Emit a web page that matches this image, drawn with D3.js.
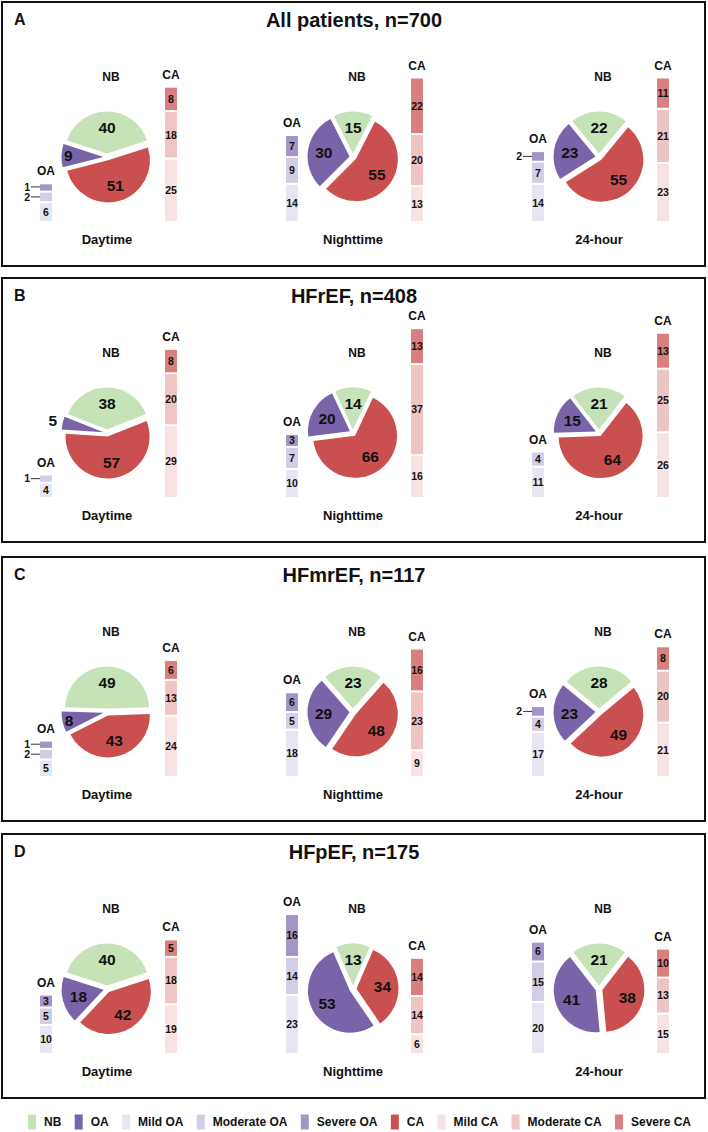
<!DOCTYPE html>
<html><head><meta charset="utf-8">
<script src="https://cdn.jsdelivr.net/npm/d3@7"></script>
<style>
body{margin:0;background:#fff}
svg{display:block}
text{font-family:"Liberation Sans",Arial,Helvetica,sans-serif;font-weight:bold;fill:#111}
</style>
</head><body>
<svg id="c" width="708" height="1132"></svg>
<script>
// ---------- DATA ----------
const panelLetters = ["A", "B", "C", "D"];
const panelTitles = ["All patients, n=700", "HFrEF, n=408", "HFmrEF, n=117", "HFpEF, n=175"];
const periods = ["Daytime", "Nighttime", "24-hour"];
// pie values [panel][period]
const nbValues = [[40, 15, 22], [38, 14, 21], [49, 23, 28], [40, 13, 21]];
const oaValues = [[9, 30, 23], [5, 20, 15], [8, 29, 23], [18, 53, 41]];
const caValues = [[51, 55, 55], [57, 66, 64], [43, 48, 49], [42, 34, 38]];
// severity breakdown [panel][period]
const oaMild = [[6, 14, 14], [4, 10, 11], [5, 18, 17], [10, 23, 20]];
const oaModerate = [[2, 9, 7], [1, 7, 4], [2, 5, 4], [5, 14, 15]];
const oaSevere = [[1, 7, 2], [0, 3, 0], [1, 6, 2], [3, 16, 6]];
const caMild = [[25, 13, 23], [29, 16, 26], [24, 9, 21], [19, 6, 15]];
const caModerate = [[18, 20, 21], [20, 37, 25], [13, 23, 20], [18, 14, 13]];
const caSevere = [[8, 22, 11], [8, 13, 13], [6, 16, 8], [5, 14, 10]];
const legendLabels = ["NB", "OA", "Mild OA", "Moderate OA", "Severe OA", "CA", "Mild CA", "Moderate CA", "Severe CA"];

// ---------- STYLE ----------
const colors = {
  "NB": "#c5e3b6", "OA": "#7964a9", "Mild OA": "#e7e5f2", "Moderate OA": "#d3cde6", "Severe OA": "#a395c8",
  "CA": "#c9504f", "Mild CA": "#f7e3e3", "Moderate CA": "#efc4c4", "Severe CA": "#d97f7e"
};

const svg = d3.select("#c");
const panelTops = [2, 278, 557, 834];
const panelH = 264;
const colX = d3.scalePoint().domain(periods).range([107, 599]);
// segment length scale (small base so that labelled segments stay legible)
const hScale = d3.scaleLinear().domain([0, 10]).range([4, 27]);
const R = 42, OFF = 3.5;
const arc = d3.arc().innerRadius(0).outerRadius(R);

panelTops.forEach((top, p) => {
  const g = svg.append("g").attr("transform", `translate(0,${top})`);
  g.append("rect").attr("x", 2).attr("y", 0).attr("width", 703).attr("height", panelH)
    .attr("fill", "none").attr("stroke", "#111").attr("stroke-width", 2);
  g.append("text").attr("x", 14).attr("y", 22.5).attr("font-size", 16).text(panelLetters[p]);
  g.append("text").attr("x", 354).attr("y", 24.5).attr("text-anchor", "middle").attr("font-size", 20).text(panelTitles[p]);

  periods.forEach((per, k) => {
    const cx = colX(per), cy = 155;
    const nb = nbValues[p][k], oa = oaValues[p][k], ca = caValues[p][k];
    const tot = nb + oa + ca;
    const start = -nb / tot * Math.PI;
    const pie = d3.pie().sort(null).value(d => d.v).startAngle(start).endAngle(start + 2 * Math.PI);
    const arcs = pie([{k: "NB", v: nb}, {k: "CA", v: ca}, {k: "OA", v: oa}]);
    const pg = g.append("g").attr("transform", `translate(${cx},${cy})`);
    arcs.forEach(a => {
      const mid = (a.startAngle + a.endAngle) / 2;
      const ox = Math.sin(mid) * OFF, oy = -Math.cos(mid) * OFF;
      pg.append("path").attr("d", arc(a)).attr("fill", colors[a.data.k])
        .attr("transform", `translate(${ox},${oy})`);
      const v = a.data.v;
      const lr = v <= 5 ? R + 10 : v <= 10 ? 0.84 * R : 0.62 * R;
      pg.append("text").attr("x", Math.sin(mid) * (lr + OFF)).attr("y", -Math.cos(mid) * (lr + OFF))
        .attr("dy", "0.36em").attr("text-anchor", "middle").attr("font-size", 15.5)
        .attr("fill", "#1a1a1a").text(v);
    });
    g.append("text").attr("x", cx + 4).attr("y", 79).attr("text-anchor", "middle").attr("font-size", 12).text("NB");
    g.append("text").attr("x", cx).attr("y", 242).attr("text-anchor", "middle").attr("font-size", 13).text(per);

    // stacked severity bars
    const bars = [
      {name: "OA", x: cx - 61, segs: [["Mild OA", oaMild[p][k]], ["Moderate OA", oaModerate[p][k]], ["Severe OA", oaSevere[p][k]]]},
      {name: "CA", x: cx + 64, segs: [["Mild CA", caMild[p][k]], ["Moderate CA", caModerate[p][k]], ["Severe CA", caSevere[p][k]]]}
    ];
    bars.forEach(b => {
      let y0 = 219;
      const bw = 12, left = b.x - bw / 2;
      const ext = [];
      b.segs.forEach(([name, v]) => {
        if (!v) return;
        const h = hScale(v);
        g.append("rect").attr("x", left).attr("y", y0 - h).attr("width", bw).attr("height", h).attr("fill", colors[name]);
        const yc = y0 - h / 2;
        if (h < 9) ext.push({v, y: yc});
        else g.append("text").attr("x", b.x).attr("y", yc).attr("dy", "0.36em").attr("text-anchor", "middle")
          .attr("font-size", 10.5).text(v);
        y0 = y0 - h - 2;
      });
      // external labels, bottom-up collision avoidance
      let prev = Infinity;
      ext.forEach(e => {
        e.ly = Math.min(e.y, prev - 10);
        prev = e.ly;
        g.append("line").attr("x1", left - 9).attr("x2", left).attr("y1", e.ly).attr("y2", e.ly)
          .attr("stroke", "#333").attr("stroke-width", 1);
        g.append("text").attr("x", left - 10).attr("y", e.ly).attr("dy", "0.36em").attr("text-anchor", "end")
          .attr("font-size", 10.5).text(e.v);
      });
      const barTop = y0 + 2;
      g.append("text").attr("x", b.x).attr("y", barTop - 9).attr("text-anchor", "middle").attr("font-size", 12).text(b.name);
    });
  });
});

// ---------- LEGEND ----------
const lg = svg.append("g").attr("transform", "translate(0,1122)");
const sqW = 8, sqH = 15, gapT = 8;
const items = legendLabels.map(l => {
  const t = lg.append("text").attr("y", 0).attr("dy", "0.36em").attr("font-size", 12).text(l);
  return {l, t, w: t.node().getComputedTextLength()};
});
const fixed = d3.sum(items, d => sqW + gapT + d.w);
const spacing = (691 - 28 - fixed) / (items.length - 1);
let lx = 28;
items.forEach(d => {
  lg.append("rect").attr("x", lx).attr("y", -sqH / 2).attr("width", sqW).attr("height", sqH).attr("fill", colors[d.l]);
  d.t.attr("x", lx + sqW + gapT);
  lx += sqW + gapT + d.w + spacing;
});
</script>
</body></html>
